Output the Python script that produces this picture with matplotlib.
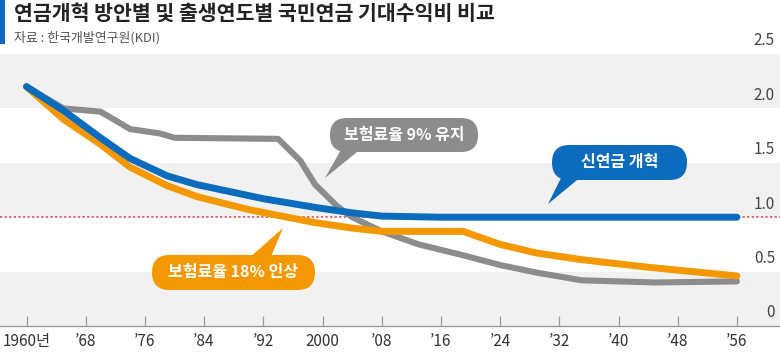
import matplotlib
matplotlib.use("Agg")
import matplotlib.pyplot as plt
from matplotlib.patches import FancyBboxPatch, Polygon, Rectangle

plt.rcParams['font.family'] = ['Noto Sans CJK KR', 'DejaVu Sans']

# ---- data ----
title = "연금개혁 방안별 및 출생연도별 국민연금 기대수익비 비교"
source = "자료 : 한국개발연구원(KDI)"

tick_years = [1960, 1968, 1976, 1984, 1992, 2000, 2008, 2016, 2024, 2032, 2040, 2048, 2056]
tick_labels = ["1960년", "’68", "’76", "’84", "’92", "2000", "’08", "’16", "’24", "’32", "’40", "’48", "’56"]
y_ticks = [0, 0.5, 1.0, 1.5, 2.0, 2.5]
y_labels = ["0", "0.5", "1.0", "1.5", "2.0", "2.5"]

blue_name = "신연금 개혁"
blue_years = [1960, 1965, 1970, 1974, 1979, 1983, 1992, 1999, 2004, 2008, 2016, 2024, 2032, 2040, 2048, 2056]
blue_vals = [2.20, 1.98, 1.73, 1.54, 1.38, 1.30, 1.17, 1.09, 1.04, 1.01, 1.00, 1.00, 1.00, 1.00, 1.00, 1.00]

orange_name = "보험료율 18% 인상"
orange_years = [1960, 1965, 1970, 1974, 1979, 1983, 1990, 1999, 2004, 2008, 2019, 2024, 2029, 2035, 2044, 2056]
orange_vals = [2.20, 1.90, 1.67, 1.46, 1.29, 1.19, 1.07, 0.95, 0.90, 0.87, 0.87, 0.75, 0.67, 0.61, 0.54, 0.46]

gray_name = "보험료율 9% 유지"
gray_years = [1960, 1965, 1970, 1974, 1978, 1980, 1994, 1997, 1999, 2002, 2004, 2008, 2013, 2019, 2024, 2029, 2035, 2045, 2056]
gray_vals = [2.20, 2.00, 1.97, 1.81, 1.77, 1.73, 1.72, 1.52, 1.30, 1.10, 1.00, 0.87, 0.75, 0.65, 0.56, 0.49, 0.42, 0.40, 0.41]

BLUE = "#0b6bbd"
ORANGE = "#f39800"
GRAY = "#8c8c8c"
BAND = "#f1f1f1"

W, H = 780, 352
fig = plt.figure(figsize=(W / 100, H / 100), dpi=100)
fig.patch.set_facecolor("white")

# main axes: spans full width
ax = fig.add_axes([0, 26 / H, 1, (326 - 54) / H])
x0 = 1960 - 26.5 / 7.4
x1 = 1960 + (W - 26.5) / 7.4
ax.set_xlim(x0, x1)
ax.set_ylim(0, 2.5)
ax.set_facecolor("white")

for lo, hi in [(0, 0.5), (1.0, 1.5), (2.0, 2.5)]:
    ax.axhspan(lo, hi, color=BAND, lw=0, zorder=0)
ax.axhline(1.0, color="#e0404a", lw=1.1, ls=(0, (1.5, 1.5)), zorder=1)

ax.plot(gray_years, gray_vals, color=GRAY, lw=4.4, solid_capstyle="round", solid_joinstyle="round", zorder=2)
ax.plot(orange_years, orange_vals, color=ORANGE, lw=5.0, solid_capstyle="round", solid_joinstyle="round", zorder=3)
ax.plot(blue_years, blue_vals, color=BLUE, lw=5.0, solid_capstyle="round", solid_joinstyle="round", zorder=4)

for s in ["top", "right", "left"]:
    ax.spines[s].set_visible(False)
ax.spines["bottom"].set_color("#9a9a9a")
ax.spines["bottom"].set_linewidth(1.0)
ax.set_yticks([])
ax.set_xticks(tick_years)
ax.set_xticklabels(tick_labels, fontsize=11, color="#333333")
ax.tick_params(axis="x", direction="in", length=7, width=0.9, color="#9a9a9a", pad=5)

for v, lab in zip(y_ticks, y_labels):
    ax.text(0.9936, v + 0.12, lab, transform=ax.get_yaxis_transform(), ha="right", va="center",
            fontsize=11, color="#444444", clip_on=False)

# overlay axes in pixel coordinates for title and callouts
ov = fig.add_axes([0, 0, 1, 1])
ov.set_xlim(0, W)
ov.set_ylim(H, 0)
ov.axis("off")
ov.patch.set_alpha(0)

ov.add_patch(Rectangle((0, 0), 5, 44, color=BLUE, lw=0))
ov.text(14, 13, title, fontsize=14.8, fontweight="bold", color="#222222", ha="left", va="center")
ov.text(14, 38, source, fontsize=9.3, color="#555555", ha="left", va="center")


def bubble(x, y, w, h, color, text, tail):
    ov.add_patch(FancyBboxPatch((x, y), w, h, boxstyle=f"round,pad=0,rounding_size={h / 2}",
                                fc=color, ec="none", zorder=5))
    ov.add_patch(Polygon(tail, closed=True, fc=color, ec="none", zorder=5))
    ov.text(x + w / 2, y + h / 2, text, color="white", fontsize=11.5, fontweight="bold",
            ha="center", va="center", zorder=6)


bubble(330, 118, 148, 34, GRAY, gray_name, [(342, 148), (362, 148), (325, 178)])
bubble(552, 145, 135, 35, BLUE, blue_name, [(562, 176), (582, 176), (548, 204)])
bubble(152, 255, 163, 35, ORANGE, orange_name, [(248, 259), (270, 259), (283, 228)])

fig.savefig("out.png", dpi=100)
